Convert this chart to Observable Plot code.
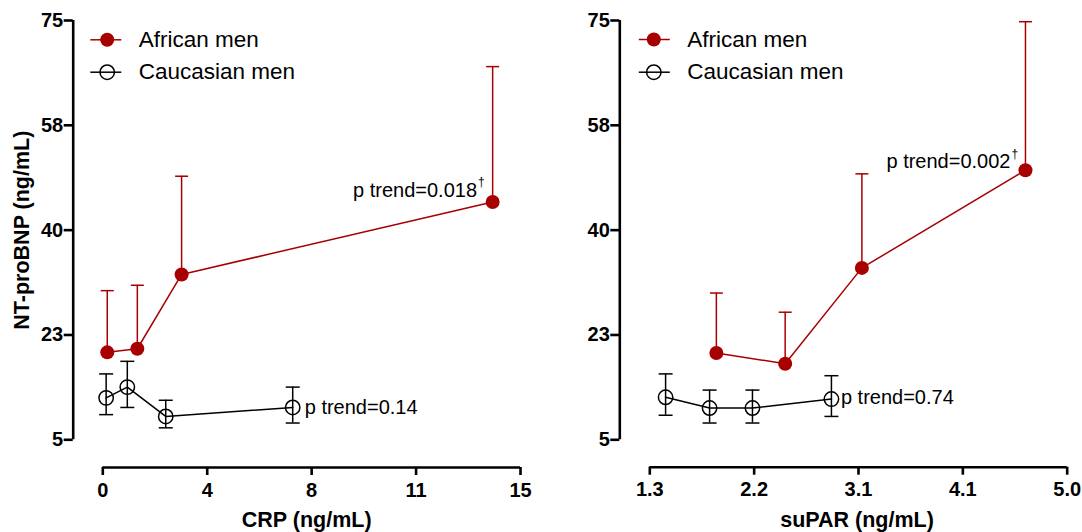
<!DOCTYPE html>
<html>
<head>
<meta charset="utf-8">
<script src="https://cdn.jsdelivr.net/npm/d3@7"></script>
<script src="https://cdn.jsdelivr.net/npm/@observablehq/plot@0.6"></script>
<style>
  html, body { margin: 0; padding: 0; background: #fff; }
  #wrap { display: flex; width: 1082px; height: 532px; }
  #wrap svg { display: block; }
</style>
</head>
<body>
<div id="wrap"></div>
<script>
// ---------------- data ----------------
const seriesNames = ["African men", "Caucasian men"];

// CRP panel
const crpAfricanX  = [0.16, 1.24, 2.83, 14.0];
const crpAfricanY  = [19.6, 20.2, 32.6, 44.7];
const crpAfricanHi = [29.9, 30.8, 49.0, 67.3];
const crpCaucasianX  = [0.12, 0.88, 2.26, 6.82];
const crpCaucasianY  = [12.0, 13.8, 8.9, 10.4];
const crpCaucasianLo = [9.2, 10.4, 7.0, 7.8];
const crpCaucasianHi = [16.0, 18.1, 11.6, 13.8];
const crpTrend = ["p trend=0.018", "p trend=0.14"];

// suPAR panel
const suparAfricanX  = [1.89, 2.50, 3.18, 4.63];
const suparAfricanY  = [19.5, 17.7, 33.7, 50.0];
const suparAfricanHi = [29.5, 26.3, 49.4, 74.8];
const suparCaucasianX  = [1.44, 1.83, 2.21, 2.91];
const suparCaucasianY  = [12.1, 10.3, 10.3, 11.8];
const suparCaucasianLo = [9.1, 7.8, 7.8, 8.9];
const suparCaucasianHi = [16.0, 13.3, 13.3, 15.7];
const suparTrend = ["p trend=0.002", "p trend=0.74"];

const dagger = "†";

// axes
const yDomain = [5, 75];
const yTicks = [5, 22.5, 40, 57.5, 75];
const yTickLabels = ["5", "23", "40", "58", "75"];
const crpDomain = [0, 15];
const crpTicks = [0, 3.75, 7.5, 11.25, 15];
const crpTickLabels = ["0", "4", "8", "11", "15"];
const suparDomain = [1.3, 5.0];
const suparTicks = [1.3, 2.225, 3.15, 4.075, 5.0];
const suparTickLabels = ["1.3", "2.2", "3.1", "4.1", "5.0"];
const yTitle = "NT-proBNP (ng/mL)";
const crpTitle = "CRP (ng/mL)";
const suparTitle = "suPAR (ng/mL)";

// ---------------- style ----------------
const RED = "#a80000";
const FONT = "'Liberation Sans', Arial, Helvetica, sans-serif";
const hLine = (half) => ({draw(ctx) { ctx.moveTo(-half, 0); ctx.lineTo(half, 0); }});

function panel(cfg) {
  const afr = cfg.afrX.map((x, i) => ({x, y: cfg.afrY[i], hi: cfg.afrHi[i]}));
  const cau = cfg.cauX.map((x, i) => ({x, y: cfg.cauY[i], lo: cfg.cauLo[i], hi: cfg.cauHi[i]}));
  const afrLast = [afr[afr.length - 1]];
  const cauLast = [cau[cau.length - 1]];
  const fmt = (ticks, labels) => d => labels[ticks.indexOf(d)];

  const marks = [
    // axis lines (offset, Prism style)
    Plot.ruleX([cfg.xDomain[0]], {y1: yDomain[0], y2: yDomain[1], dx: cfg.yAxisDx, stroke: "black", strokeWidth: 2.6}),
    Plot.ruleY([yDomain[0]], {x1: cfg.xDomain[0], x2: cfg.xDomain[1], dy: cfg.xAxisDy, stroke: "black", strokeWidth: 2.6}),
    Plot.axisY(yTicks, {tickFormat: fmt(yTicks, yTickLabels), tickSize: 9, tickPadding: 1, dx: cfg.yAxisDx,
      strokeWidth: 2.6, fontSize: 20, fontWeight: "bold", fill: "black", label: null}),
    Plot.axisX(cfg.xTicks, {tickFormat: fmt(cfg.xTicks, cfg.xTickLabels), tickSize: 8, tickPadding: 7, dy: cfg.xAxisDy,
      strokeWidth: 2.6, fontSize: 20, fontWeight: "bold", fill: "black", label: null}),
    // titles
    Plot.text([cfg.xTitle], {frameAnchor: "bottom", dy: 80, dx: cfg.xTitleDx, textAnchor: "middle", lineAnchor: "middle",
      fontSize: 21.5, fontWeight: "bold", fill: "black"}),
    // series lines
    Plot.line(afr, {x: "x", y: "y", stroke: RED, strokeWidth: 1.5}),
    Plot.line(cau, {x: "x", y: "y", stroke: "black", strokeWidth: 1.5}),
    // error bars
    Plot.ruleX(afr, {x: "x", y1: "y", y2: "hi", stroke: RED, strokeWidth: 1.5}),
    Plot.dot(afr, {x: "x", y: "hi", symbol: hLine(6.5), stroke: RED, strokeWidth: 1.5, fill: "none"}),
    Plot.ruleX(cau, {x: "x", y1: "lo", y2: "hi", stroke: "black", strokeWidth: 1.5}),
    Plot.dot(cau, {x: "x", y: "hi", symbol: hLine(7), stroke: "black", strokeWidth: 1.5, fill: "none"}),
    Plot.dot(cau, {x: "x", y: "lo", symbol: hLine(7), stroke: "black", strokeWidth: 1.5, fill: "none"}),
    // markers
    Plot.dot(afr, {x: "x", y: "y", r: 7, fill: RED, stroke: "none"}),
    Plot.dot(cau, {x: "x", y: "y", r: 7.2, fill: "none", stroke: "black", strokeWidth: 1.5}),
    // p-trend annotations
    Plot.text(afrLast, {x: "x", y: "y", text: () => cfg.trend[0], textAnchor: "end", lineAnchor: "middle",
      dx: cfg.afrTextDx, dy: cfg.afrTextDy, fontSize: 20, fill: "black"}),
    Plot.text(afrLast, {x: "x", y: "y", text: () => dagger, textAnchor: "start", lineAnchor: "middle",
      dx: cfg.afrTextDx + 1, dy: cfg.afrTextDy - 8, fontSize: 12, fill: "black"}),
    Plot.text(cauLast, {x: "x", y: "y", text: () => cfg.trend[1], textAnchor: "start", lineAnchor: "middle",
      dx: cfg.cauTextDx, dy: cfg.cauTextDy, fontSize: 20, fill: "black"}),
  ];

  // legend
  const L = cfg.legend;
  seriesNames.forEach((name, i) => {
    const dy = L.dy0 + i * L.gap;
    const color = i === 0 ? RED : "black";
    marks.push(Plot.dot([name], {frameAnchor: "top-left", dx: L.lineDx, dy, symbol: hLine(15.5), stroke: color, strokeWidth: 1.5, fill: "none"}));
    marks.push(i === 0
      ? Plot.dot([name], {frameAnchor: "top-left", dx: L.markDx, dy, r: 7, fill: RED, stroke: "none"})
      : Plot.dot([name], {frameAnchor: "top-left", dx: L.markDx, dy, r: 7.2, fill: "none", stroke: "black", strokeWidth: 1.5}));
    marks.push(Plot.text([name], {frameAnchor: "top-left", dx: L.textDx, dy, text: d => d, textAnchor: "start",
      lineAnchor: "middle", fontSize: 22.5, fill: "black"}));
  });

  if (cfg.showYTitle) {
    marks.push(Plot.text([yTitle], {frameAnchor: "left", rotate: -90, dx: cfg.yTitleDx, textAnchor: "middle", lineAnchor: "middle",
      fontSize: 21.5, fontWeight: "bold", fill: "black"}));
  }

  return Plot.plot({
    width: cfg.width,
    height: 532,
    marginLeft: cfg.marginLeft,
    marginRight: cfg.marginRight,
    marginTop: 20,
    marginBottom: 92.7,
    style: {fontFamily: FONT, background: "white", overflow: "visible"},
    x: {domain: cfg.xDomain},
    y: {domain: yDomain},
    marks
  });
}

const left = panel({
  width: 541, marginLeft: 102.3, marginRight: 21,
  xDomain: crpDomain, xTicks: crpTicks, xTickLabels: crpTickLabels, xTitle: crpTitle, xTitleDx: -5,
  afrX: crpAfricanX, afrY: crpAfricanY, afrHi: crpAfricanHi,
  cauX: crpCaucasianX, cauY: crpCaucasianY, cauLo: crpCaucasianLo, cauHi: crpCaucasianHi,
  trend: crpTrend, afrTextDx: -15.6, afrTextDy: -11.7, cauTextDx: 12, cauTextDy: 0,
  yAxisDx: -29.6, xAxisDy: 27.7, showYTitle: true, yTitleDx: -80.3,
  legend: {lineDx: 3, markDx: 4.4, textDx: 36, dy0: 19.3, gap: 32.4}
});
const right = panel({
  width: 541, marginLeft: 108.3, marginRight: 15.3,
  xDomain: suparDomain, xTicks: suparTicks, xTickLabels: suparTickLabels, xTitle: suparTitle, xTitleDx: -1.5,
  afrX: suparAfricanX, afrY: suparAfricanY, afrHi: suparAfricanHi,
  cauX: suparCaucasianX, cauY: suparCaucasianY, cauLo: suparCaucasianLo, cauHi: suparCaucasianHi,
  trend: suparTrend, afrTextDx: -15, afrTextDy: -8.3, cauTextDx: 9.5, cauTextDy: -1,
  yAxisDx: -30, xAxisDy: 27.4, showYTitle: false,
  legend: {lineDx: 4.5, markDx: 4, textDx: 37.4, dy0: 19, gap: 32.7}
});
document.getElementById("wrap").append(left, right);
</script>
</body>
</html>
